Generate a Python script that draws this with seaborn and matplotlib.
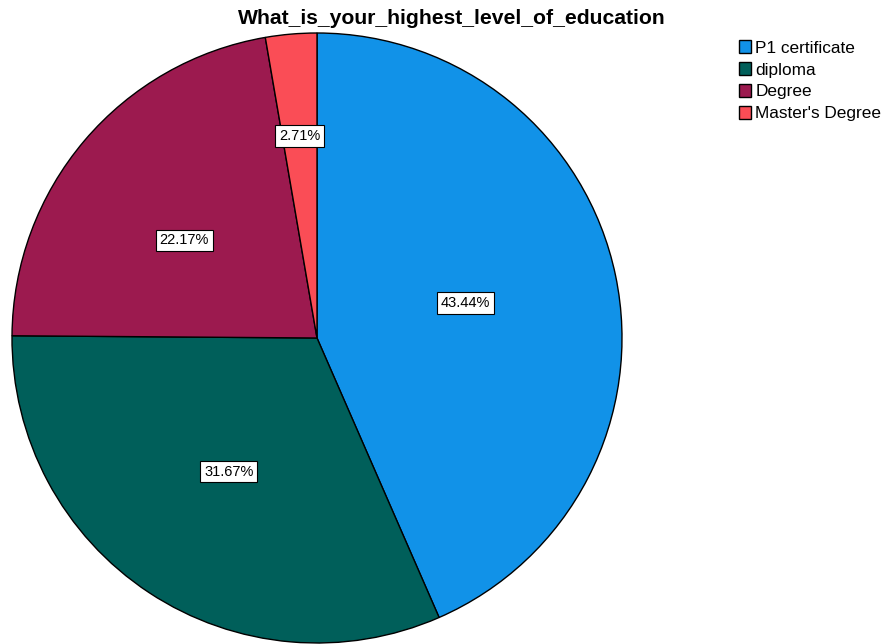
import numpy as np
import matplotlib
matplotlib.use("Agg")
import matplotlib.pyplot as plt
import seaborn as sns

categories = ["P1 certificate", "diploma", "Degree", "Master's Degree"]
percentages = [43.44, 31.67, 22.17, 2.71]
colors = ["#1192E8", "#005F5A", "#9C1A4F", "#FA4D56"]
title = "What_is_your_highest_level_of_education"

sns.set_theme(style="white")
plt.rcParams['font.family'] = ['Liberation Sans', 'DejaVu Sans']
plt.rcParams['text.color'] = 'black'

fig = plt.figure(figsize=(8.84, 6.44), dpi=100)
cx, cy, r = 317, 338, 305
W, H = 884, 644
ax = fig.add_axes([(cx - r) / W, (H - cy - r) / H, 2 * r / W, 2 * r / H])

wedges, _ = ax.pie(percentages, colors=colors, startangle=90, counterclock=False,
                   wedgeprops=dict(edgecolor="black", linewidth=1.0))
ax.set_xlim(-1, 1)
ax.set_ylim(-1, 1)
ax.set_aspect("equal")
ax.axis("off")

label_dist = [0.50, 0.525, 0.54, 0.665]
label_turn = [1.5, 0.0, 4.0, 0.0]
for w, p, d, t in zip(wedges, percentages, label_dist, label_turn):
    ang = np.deg2rad((w.theta1 + w.theta2) / 2 + t)
    ax.text(d * np.cos(ang), d * np.sin(ang), f"{p:.2f}%", ha="center", va="center",
            fontsize=10.5, color="black",
            bbox=dict(boxstyle="square,pad=0.25", facecolor="white", edgecolor="black", linewidth=0.8))

fig.text(452 / W, 1 - 18.5 / H, title, ha="center", va="center", fontsize=15.2,
         fontweight="bold", color="black")

leg = fig.legend(wedges, categories, loc="upper left", bbox_to_anchor=(739 / W, 1 - 40 / H),
                 frameon=False, fontsize=12.4, handlelength=0.7, handleheight=0.8,
                 handletextpad=0.25, labelspacing=0.37, borderaxespad=0, borderpad=0,
                 labelcolor="black")

fig.savefig("out.png", dpi=100, facecolor="white")
